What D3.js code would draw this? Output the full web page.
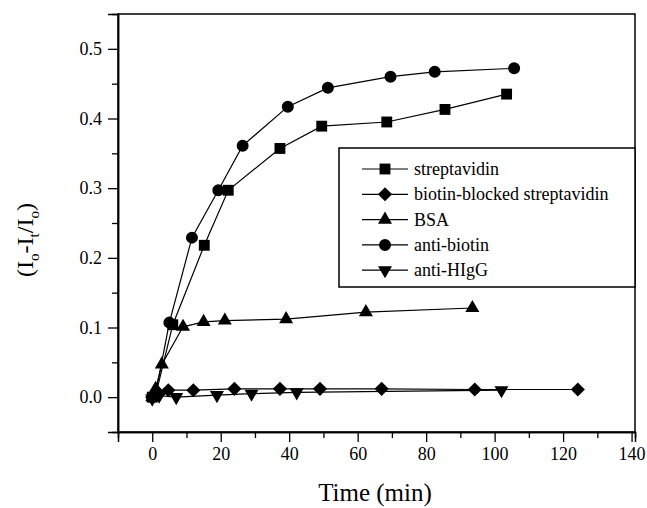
<!DOCTYPE html>
<html>
<head>
<meta charset="utf-8">
<script src="https://cdn.jsdelivr.net/npm/d3@7"></script>
<style>
  html, body { margin: 0; padding: 0; background: #fff; }
  svg { display: block; font-family: "Liberation Serif", "Times New Roman", serif; }
</style>
</head>
<body>
<div id="chart"></div>
<script>
// chart.js — binding kinetics, (Io-It)/Io vs time, five series

// ── Data ──────────────────────────────────────────────────────────────────────
var SERIES_NAMES = ['streptavidin', 'biotin-blocked streptavidin', 'BSA', 'anti-biotin', 'anti-HIgG'];

var streptavidin = [[0, 0], [1, 0.003], [6, 0.104], [15.2, 0.218], [22.2, 0.297], [37.3, 0.357],
                    [49.5, 0.389], [68.5, 0.395], [85.5, 0.413], [103.5, 0.435]];
var biotinBlocked = [[0, 0], [2, 0.005], [4.7, 0.01], [12, 0.01], [24, 0.012], [37.3, 0.012],
                     [49, 0.012], [67, 0.012], [94.2, 0.011], [124.3, 0.011]];
var bsa = [[0, 0], [1, 0.012], [2.8, 0.047], [9, 0.101], [15, 0.108], [21.2, 0.11],
           [39.1, 0.112], [62.4, 0.122], [93.5, 0.128]];
var antiBiotin = [[0, 0], [1, 0.005], [5, 0.107], [11.6, 0.229], [19.3, 0.297], [26.4, 0.361],
                  [39.6, 0.417], [51.3, 0.444], [69.6, 0.46], [82.5, 0.467], [105.7, 0.472]];
var antiHIgG = [[0, -0.002], [2, 0.002], [7, 0.0], [18.9, 0.003], [29, 0.005], [42.2, 0.007], [102, 0.01]];

var X_MAJOR = [0, 20, 40, 60, 80, 100, 120, 140];
var X_MINOR = [10, 30, 50, 70, 90, 110, 130];
var Y_MAJOR = [0, 0.1, 0.2, 0.3, 0.4, 0.5];
var Y_MINOR = [0.05, 0.15, 0.25, 0.35, 0.45];

var ALL_DATA = [streptavidin, biotinBlocked, bsa, antiBiotin, antiHIgG];
// marker per series: type + rotation
var MARKERS = [
  { type: d3.symbolSquare,   size: 118, rotate: 0 },
  { type: d3.symbolSquare,   size: 100, rotate: 45 },
  { type: d3.symbolTriangle, size: 85,  rotate: 0 },
  { type: d3.symbolCircle,   size: 113, rotate: 0 },
  { type: d3.symbolTriangle, size: 85,  rotate: 180 }
];

// ── Layout ────────────────────────────────────────────────────────────────────
// NB: don't call these "top" — that's window.top and can't be reassigned
var W = 647, H = 508;
var plotL = 118, plotR = 635, plotT = 14, plotB = 432;

var svg = d3.select('#chart').append('svg')
  .attr('width', W)
  .attr('height', H)
  .attr('viewBox', '0 0 ' + W + ' ' + H);

var x = d3.scaleLinear().domain([-10, 141]).range([plotL, plotR]);
var y = d3.scaleLinear().domain([-0.05, 0.55]).range([plotB, plotT]);

// frame
svg.append('rect')
  .attr('x', plotL).attr('y', plotT)
  .attr('width', plotR - plotL).attr('height', plotB - plotT)
  .attr('fill', 'none')
  .attr('stroke', '#000')
  .attr('stroke-width', 1.5);

// ── Axes ──────────────────────────────────────────────────────────────────────
svg.append('g')
  .attr('transform', 'translate(0,' + plotB + ')')
  .call(d3.axisBottom(x).tickValues(X_MAJOR).tickSize(10).tickPadding(5).tickFormat(d3.format('d')));
svg.append('g')
  .attr('transform', 'translate(0,' + plotB + ')')
  .call(d3.axisBottom(x).tickValues(X_MINOR).tickSize(6).tickFormat(''));

svg.append('g')
  .attr('transform', 'translate(' + plotL + ',0)')
  .call(d3.axisLeft(y).tickValues(Y_MAJOR).tickSize(10).tickPadding(6).tickFormat(d3.format('.1f')));
svg.append('g')
  .attr('transform', 'translate(' + plotL + ',0)')
  .call(d3.axisLeft(y).tickValues(Y_MINOR).tickSize(6).tickFormat(''));

svg.selectAll('.domain').attr('stroke', '#000').attr('stroke-width', 1.5);
svg.selectAll('.tick line').attr('stroke', '#000').attr('stroke-width', 1.3);
svg.selectAll('.tick text')
  .attr('fill', '#000')
  .style('font-family', '"Liberation Serif", "Times New Roman", serif')
  .style('font-size', '18px');

// axis titles
svg.append('text')
  .attr('x', 375).attr('y', 501)
  .attr('text-anchor', 'middle')
  .style('font-size', '25px')
  .text('Time (min)');

var yt = svg.append('text')
  .attr('transform', 'translate(33,240) rotate(-90)')
  .attr('text-anchor', 'middle')
  .style('font-size', '24px');
yt.append('tspan').text('(I');
yt.append('tspan').attr('dy', 6).style('font-size', '15px').text('o');
yt.append('tspan').attr('dy', -6).text('-I');
yt.append('tspan').attr('dy', 6).style('font-size', '15px').text('t');
yt.append('tspan').attr('dy', -6).text('/I');
yt.append('tspan').attr('dy', 6).style('font-size', '15px').text('o');
yt.append('tspan').attr('dy', -6).text(')');

// ── Series ────────────────────────────────────────────────────────────────────
var line = d3.line()
  .x(function(d) { return x(d[0]); })
  .y(function(d) { return y(d[1]); });

ALL_DATA.forEach(function(data, i) {
  var m = MARKERS[i];
  var sym = d3.symbol().type(m.type).size(m.size);
  var g = svg.append('g').attr('class', 'series-' + i);

  g.append('path')
    .datum(data)
    .attr('d', line)
    .attr('fill', 'none')
    .attr('stroke', '#000')
    .attr('stroke-width', 1.2);

  g.selectAll('path.pt')
    .data(data)
    .enter()
    .append('path')
    .attr('class', 'pt')
    .attr('d', sym)
    .attr('transform', function(d) {
      return 'translate(' + x(d[0]) + ',' + y(d[1]) + ') rotate(' + m.rotate + ')';
    })
    .attr('fill', '#000');
});

// ── Legend ────────────────────────────────────────────────────────────────────
var legX = 339, legY = 148, legW = plotR - legX, legH = 139;
var legend = svg.append('g');
legend.append('rect')
  .attr('x', legX).attr('y', legY)
  .attr('width', legW).attr('height', legH)
  .attr('fill', '#fff')
  .attr('stroke', '#000')
  .attr('stroke-width', 1.5);

SERIES_NAMES.forEach(function(name, i) {
  var m = MARKERS[i];
  var cy = legY + 21 + i * 25.3;
  var row = legend.append('g');
  row.append('line')
    .attr('x1', legX + 23).attr('x2', legX + 69)
    .attr('y1', cy).attr('y2', cy)
    .attr('stroke', '#000').attr('stroke-width', 1.2);
  row.append('path')
    .attr('d', d3.symbol().type(m.type).size(m.size)())
    .attr('transform', 'translate(' + (legX + 46) + ',' + cy + ') rotate(' + m.rotate + ')')
    .attr('fill', '#000');
  row.append('text')
    .attr('x', legX + 75).attr('y', cy + 6)
    .style('font-size', '18px')
    .text(name);
});
</script>
</body>
</html>
